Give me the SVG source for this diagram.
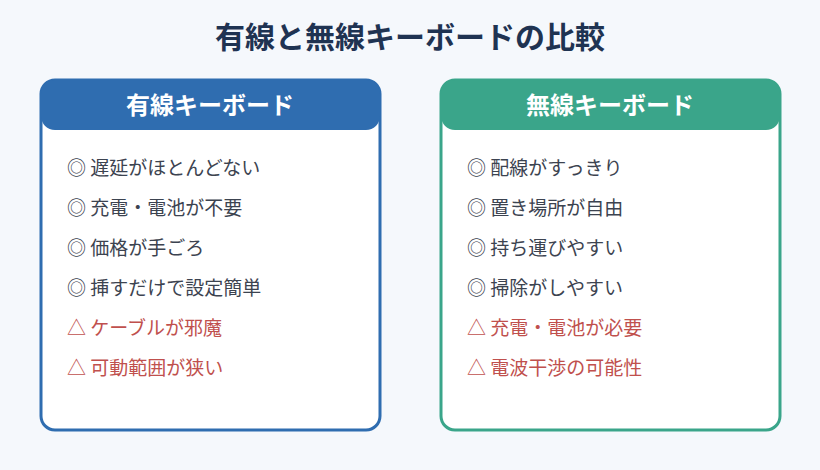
<svg xmlns="http://www.w3.org/2000/svg" width="820" height="470" viewBox="0 0 820 470">
<style>
text{font-family:"Noto Sans CJK JP","Noto Sans",sans-serif}
.title{font-size:30px;font-weight:700;fill:#1f3352}
.hd{font-size:24px;font-weight:700;fill:#fff}
.it{font-size:19px;fill:#3c4350}
.ng{font-size:19px;fill:#c0504d}
</style>
<rect width="820" height="470" fill="#f5f8fc"/>
<text class="title" x="410" y="48" text-anchor="middle">有線と無線キーボードの比較</text>
<g id="wired">
<rect x="41" y="80" width="339" height="350" rx="14" fill="#fff" stroke="#2f6db0" stroke-width="3"/>
<path d="M41 94a14 14 0 0 1 14-14h311a14 14 0 0 1 14 14v22a14 14 0 0 1-14 14h-311a14 14 0 0 1-14-14z" fill="#2f6db0"/>
<text class="hd" x="210" y="114" text-anchor="middle">有線キーボード</text>
<text class="it" x="67" y="175">◎ 遅延がほとんどない</text>
<text class="it" x="67" y="215">◎ 充電・電池が不要</text>
<text class="it" x="67" y="255">◎ 価格が手ごろ</text>
<text class="it" x="67" y="295">◎ 挿すだけで設定簡単</text>
<text class="ng" x="67" y="335">△ ケーブルが邪魔</text>
<text class="ng" x="67" y="375">△ 可動範囲が狭い</text>
</g>
<g id="wireless">
<rect x="441" y="80" width="339" height="350" rx="14" fill="#fff" stroke="#3aa58a" stroke-width="3"/>
<path d="M441 94a14 14 0 0 1 14-14h311a14 14 0 0 1 14 14v22a14 14 0 0 1-14 14h-311a14 14 0 0 1-14-14z" fill="#3aa58a"/>
<text class="hd" x="610" y="114" text-anchor="middle">無線キーボード</text>
<text class="it" x="467" y="175">◎ 配線がすっきり</text>
<text class="it" x="467" y="215">◎ 置き場所が自由</text>
<text class="it" x="467" y="255">◎ 持ち運びやすい</text>
<text class="it" x="467" y="295">◎ 掃除がしやすい</text>
<text class="ng" x="467" y="335">△ 充電・電池が必要</text>
<text class="ng" x="467" y="375">△ 電波干渉の可能性</text>
</g>
<g id="connectors"/>
</svg>
